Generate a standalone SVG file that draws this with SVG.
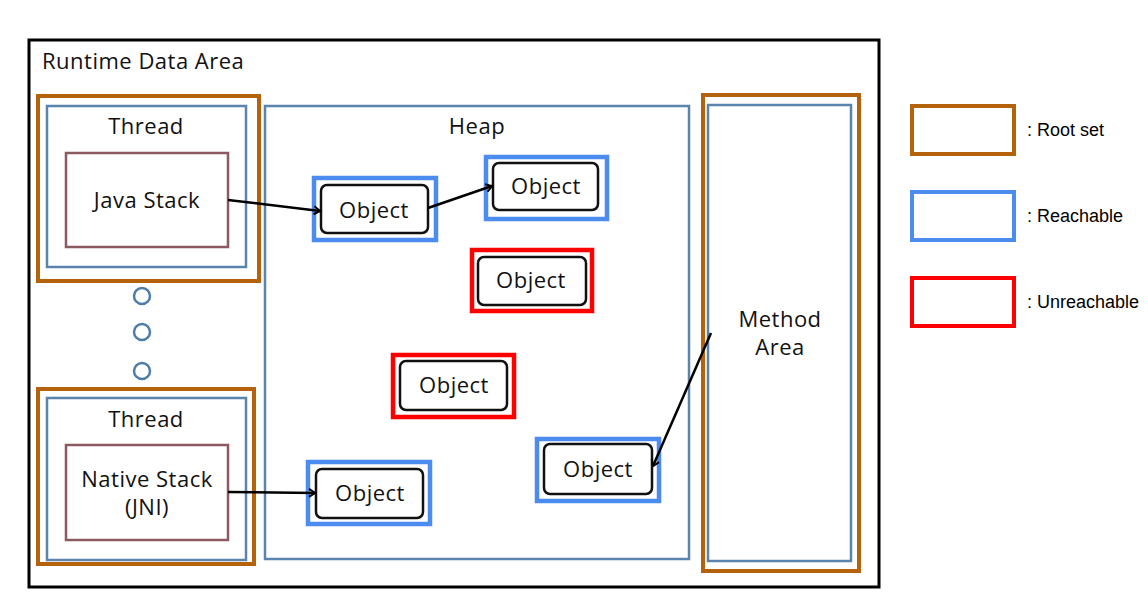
<svg xmlns="http://www.w3.org/2000/svg" width="1148" height="613" viewBox="0 0 1148 613">
<defs>
<style>
.t{font-family:"Open Sans","Noto Sans",sans-serif;font-size:22px;letter-spacing:0.5px;fill:#111;text-anchor:middle}
.lg{font-family:"Liberation Sans",Arial,sans-serif;font-size:18px;fill:#000}
.root{fill:none;stroke:#B5620C;stroke-width:4}
.area{fill:none;stroke:#5A84AD;stroke-width:2.5}
.stack{fill:none;stroke:#8C5A60;stroke-width:2.5}
.reach{fill:none;stroke:#4C8BF0;stroke-width:4.5}
.unreach{fill:none;stroke:#FF0000;stroke-width:4.5}
.obj{fill:#fff;stroke:#111;stroke-width:2.5}
.dot{fill:#fff;stroke:#4F7DAA;stroke-width:2.5}
.conn{fill:none;stroke:#000;stroke-width:2.5}
</style>
<marker id="arr" markerWidth="10" markerHeight="10" refX="7" refY="5" orient="auto" markerUnits="userSpaceOnUse">
<path d="M1,1 L7,5 L1,9" fill="none" stroke="#000" stroke-width="2"/>
</marker>
</defs>
<rect x="0" y="0" width="1148" height="613" fill="#fff"/>
<g id="runtime">
<rect x="29" y="40" width="850" height="547" fill="none" stroke="#000" stroke-width="3"/>
<text x="42" y="69" class="t" style="text-anchor:start">Runtime Data Area</text>
</g>
<g id="thread1">
<rect x="38" y="96" width="221" height="185" class="root"/>
<rect x="47" y="106" width="199" height="161" class="area"/>
<text x="146" y="134" class="t">Thread</text>
</g>
<g id="javastack">
<rect x="66" y="153" width="162" height="94" class="stack"/>
<text x="147" y="208" class="t">Java Stack</text>
</g>
<g id="dots">
<circle cx="142" cy="296" r="8" class="dot"/>
<circle cx="142" cy="332" r="8" class="dot"/>
<circle cx="142" cy="371" r="8" class="dot"/>
</g>
<g id="thread2">
<rect x="38" y="389" width="216" height="175" class="root"/>
<rect x="47" y="398" width="199" height="162" class="area"/>
<text x="146" y="427" class="t">Thread</text>
</g>
<g id="nativestack">
<rect x="66" y="445" width="162" height="95" class="stack"/>
<text x="147" y="487" class="t">Native Stack</text>
<text x="147" y="515" class="t">(JNI)</text>
</g>
<g id="heap">
<rect x="265" y="106" width="424" height="453" class="area"/>
<text x="477" y="134" class="t">Heap</text>
</g>
<g id="obj1">
<rect x="314" y="178" width="122" height="62" class="reach"/>
<rect x="321" y="185" width="107" height="48" rx="6" class="obj"/>
<text x="374" y="218" class="t">Object</text>
</g>
<g id="obj2">
<rect x="486" y="157" width="121" height="62" class="reach"/>
<rect x="493" y="163" width="105" height="47" rx="6" class="obj"/>
<text x="546" y="194" class="t">Object</text>
</g>
<g id="obj3">
<rect x="472" y="250" width="120" height="61" class="unreach"/>
<rect x="478" y="257" width="108" height="48" rx="6" class="obj"/>
<text x="531" y="288" class="t">Object</text>
</g>
<g id="obj4">
<rect x="393" y="355" width="121" height="62" class="unreach"/>
<rect x="400" y="361" width="107" height="49" rx="6" class="obj"/>
<text x="454" y="393" class="t">Object</text>
</g>
<g id="obj5">
<rect x="308" y="462" width="122" height="62" class="reach"/>
<rect x="316" y="469" width="107" height="49" rx="6" class="obj"/>
<text x="370" y="501" class="t">Object</text>
</g>
<g id="obj6">
<rect x="537" y="439" width="122" height="62" class="reach"/>
<rect x="544" y="444" width="108" height="50" rx="6" class="obj"/>
<text x="598" y="477" class="t">Object</text>
</g>
<g id="methodarea">
<rect x="703" y="95" width="156" height="476" class="root"/>
<rect x="708" y="105" width="143" height="456" class="area"/>
<text x="780" y="327" class="t">Method</text>
<text x="780" y="355" class="t">Area</text>
</g>
<g id="connectors">
<line x1="228" y1="200" x2="320" y2="211" class="conn" marker-end="url(#arr)"/>
<line x1="428" y1="208" x2="492" y2="186" class="conn" marker-end="url(#arr)"/>
<line x1="228" y1="492" x2="315" y2="493" class="conn" marker-end="url(#arr)"/>
<line x1="711" y1="333" x2="653" y2="466" class="conn" marker-end="url(#arr)"/>
</g>
<g id="legend">
<rect x="912" y="106" width="102" height="48" class="root"/>
<text x="1027" y="136" class="lg">: Root set</text>
<rect x="912" y="192" width="102" height="48" class="reach" style="stroke-width:4"/>
<text x="1027" y="222" class="lg">: Reachable</text>
<rect x="912" y="278" width="102" height="48" class="unreach" style="stroke-width:4"/>
<text x="1027" y="308" class="lg">: Unreachable</text>
</g>
</svg>
